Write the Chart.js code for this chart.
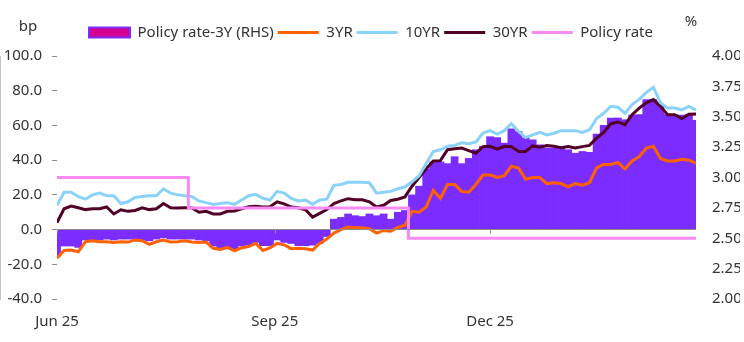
<!DOCTYPE html>
<html>
<head>
<meta charset="utf-8">
<script src="https://cdn.jsdelivr.net/npm/chart.js@4.4.1/dist/chart.umd.min.js"></script>
<style>
  html, body { margin: 0; padding: 0; background: #fff; }
  #wrap { width: 744px; height: 342px; }
</style>
</head>
<body>
<div id="wrap"><canvas id="ratesChart" width="744" height="342"></canvas></div>
<script>
// one observation every 3 calendar days, starting 1 Jun 2025
const dayStep = 3;
const tickDays = [0, 92, 183];
const tickLabels = ["Jun 25", "Sep 25", "Dec 25"];

// Policy rate - 3Y spread (bp, bars)
const spread = [
  -15, -9.5, -9.5, -10.3, -6, -6, -6, -5.5, -6, -5.5,
  -5.5, -5.5, -6, -6.5, -5.5, -4.8, -5.5, -5.5, -5.5, -5.5,
  -6, -6.5, -9.5, -10.5, -11, -11, -9.5, -9, -7.4, -9.3,
  -9.3, -6, -7.4, -8, -9.3, -9.3, -9, -8, -4, 6,
  7, 9, 8, 7.5, 9, 8, 9, 6, 10, 11,
  20, 25, 35, 39, 39, 38, 42, 38, 41, 46,
  48, 53.5, 53, 49.8, 58, 56.5, 52.7, 51.7, 48.8, 47,
  47, 46.9, 46, 44, 45, 44.5, 55, 60, 64.3, 64.3,
  63.3, 66, 66.2, 74.9, 74.9, 72, 66.2, 66, 66, 66.2,
  63
];

// yields (bp, left axis)
const yr3 = [
  -16.5, -12, -11.8, -12.8, -7, -6.5, -7, -7, -7.5, -7,
  -7.2, -6, -6.4, -8.5, -7, -6, -7.2, -7, -6.5, -7.2,
  -7.4, -7.2, -10.8, -11.5, -10.3, -12.2, -10.5, -9.8, -8, -12,
  -10.5, -8, -8.8, -11, -10.8, -11, -11.8, -8, -5.5, -2,
  0, 1.5, 1, 1, 0.5, -2, -0.5, -1, 1.2, 2.5,
  10.5, 10, 13, 22.5, 18, 26, 26, 22, 21.5, 26,
  31.5, 31.5, 30, 31, 36.5, 35.5, 29, 30, 30, 26.5,
  27, 26.5, 24.6, 26.5, 25.6, 27, 35.6, 37.5, 37.5, 38.7,
  35, 39.5, 42, 46.9, 48, 41, 39.5, 39.5, 40.5, 40,
  38.2
];
const yr10 = [
  14, 21.5, 21.5, 19, 17.5, 20, 21, 19.5, 19.5, 15,
  16, 18.5, 19, 19.5, 19.5, 23.5, 21, 20, 19.5, 19,
  16.5, 15.5, 14.5, 15, 15.5, 14.5, 17, 19.5, 20.3, 18,
  17, 22, 21, 18, 16.5, 17, 14.5, 17, 17.5, 25.5,
  26, 27.2, 27.2, 27.2, 27, 21, 21.5, 22, 23.5, 24.5,
  27.5, 31, 38, 45, 46, 48, 48.5, 50, 49.5, 50.5,
  55.6, 57, 55, 57, 61, 56.5, 53, 54.6, 56, 54.5,
  55.5, 57, 57, 57, 56, 57.5, 64, 67, 71, 70.5,
  67, 72, 75, 79, 82, 73, 70, 70, 69, 71,
  69
];
const yr30 = [
  4, 12, 13.5, 12.6, 11.5, 12, 12, 13, 9, 11.4,
  10.5, 11, 12.5, 11.5, 12, 15, 12.6, 12.5, 12.6, 12.5,
  10, 10.5, 9, 9, 10.5, 10.7, 12, 13.2, 13.4, 13,
  13.2, 16, 14.8, 13, 12.6, 11.4, 7.2, 9.3, 11.5, 15,
  16.5, 17.8, 17.2, 17.2, 16, 13, 14, 16.8, 17.5, 18.8,
  25, 30, 35, 39.5, 39.7, 46, 46.5, 47, 45.5, 44,
  47.8, 48, 46.3, 48, 47.8, 45, 45, 48.2, 47.5, 48.4,
  48, 47.2, 47.8, 47, 47.8, 48.5, 52.7, 56, 61, 62,
  60.4, 66.2, 70, 73, 74.9, 71, 66.2, 66.2, 64, 66.5,
  66.6
];

// policy rate (%, right axis)
const policyRate = [
  3.00, 3.00, 3.00, 3.00, 3.00, 3.00, 3.00, 3.00, 3.00, 3.00,
  3.00, 3.00, 3.00, 3.00, 3.00, 3.00, 3.00, 3.00, 3.00, 2.75,
  2.75, 2.75, 2.75, 2.75, 2.75, 2.75, 2.75, 2.75, 2.75, 2.75,
  2.75, 2.75, 2.75, 2.75, 2.75, 2.75, 2.75, 2.75, 2.75, 2.75,
  2.75, 2.75, 2.75, 2.75, 2.75, 2.75, 2.75, 2.75, 2.75, 2.75,
  2.50, 2.50, 2.50, 2.50, 2.50, 2.50, 2.50, 2.50, 2.50, 2.50,
  2.50, 2.50, 2.50, 2.50, 2.50, 2.50, 2.50, 2.50, 2.50, 2.50,
  2.50, 2.50, 2.50, 2.50, 2.50, 2.50, 2.50, 2.50, 2.50, 2.50,
  2.50, 2.50, 2.50, 2.50, 2.50, 2.50, 2.50, 2.50, 2.50, 2.50,
  2.50
];

const FONT = "'Noto Sans', sans-serif";
const TEXT = "#333";
const AXIS = "#8c8c8c";

const toXY = arr => arr.map((v, i) => ({ x: i * dayStep, y: v }));

// a bit more room between the legend and the plot
const legendGap = {
  id: "legendGap",
  beforeInit(chart) {
    const fit = chart.legend.fit;
    chart.legend.fit = function () {
      fit.call(this);
      this.height += 6;
    };
  }
};

// "bp" / "%" unit labels and the small date ticks on the zero line
const extras = {
  id: "extras",
  afterDraw(chart) {
    const { ctx, chartArea, scales } = chart;
    ctx.save();
    ctx.fillStyle = TEXT;
    ctx.font = "15px " + FONT;
    ctx.textAlign = "center";
    ctx.textBaseline = "middle";
    ctx.fillText("bp", chartArea.left - 29, chartArea.top - 29);
    ctx.fillText("%", chartArea.right - 5, chartArea.top - 34);

    const y0 = scales.y.getPixelForValue(0);
    ctx.strokeStyle = AXIS;
    ctx.lineWidth = 1;
    tickDays.forEach(d => {
      const px = Math.round(scales.x.getPixelForValue(d)) + 0.5;
      ctx.beginPath();
      ctx.moveTo(px, y0);
      ctx.lineTo(px, y0 + 4);
      ctx.stroke();
    });
    ctx.restore();
  }
};

new Chart(document.getElementById("ratesChart"), {
  data: {
    datasets: [
      {
        type: "bar",
        label: "Policy rate-3Y (RHS)",
        data: toXY(spread),
        yAxisID: "y",
        backgroundColor: "#7b2cff",
        borderWidth: 0,
        barPercentage: 1,
        categoryPercentage: 1,
        pointStyle: "rect",
        order: 2
      },
      {
        type: "line",
        label: "3YR",
        data: toXY(yr3),
        yAxisID: "y",
        borderColor: "#ff6200",
        backgroundColor: "#ff6200",
        borderWidth: 3,
        pointRadius: 0,
        pointStyle: "line",
        order: 1
      },
      {
        type: "line",
        label: "10YR",
        data: toXY(yr10),
        yAxisID: "y",
        borderColor: "#89d3fa",
        backgroundColor: "#89d3fa",
        borderWidth: 3,
        pointRadius: 0,
        pointStyle: "line",
        order: 1
      },
      {
        type: "line",
        label: "30YR",
        data: toXY(yr30),
        yAxisID: "y",
        borderColor: "#520025",
        backgroundColor: "#520025",
        borderWidth: 3,
        pointRadius: 0,
        pointStyle: "line",
        order: 1
      },
      {
        type: "line",
        label: "Policy rate",
        data: toXY(policyRate),
        yAxisID: "y1",
        borderColor: "#f78bf3",
        backgroundColor: "#f78bf3",
        borderWidth: 3,
        pointRadius: 0,
        pointStyle: "line",
        stepped: "middle",
        order: 0
      }
    ]
  },
  options: {
    responsive: false,
    devicePixelRatio: 1,
    animation: false,
    layout: { padding: { top: 21, left: 2, right: 4, bottom: 5 } },
    plugins: {
      tooltip: { enabled: false },
      legend: {
        position: "top",
        labels: {
          color: TEXT,
          font: { family: FONT, size: 15 },
          usePointStyle: true,
          pointStyleWidth: 41,
          boxHeight: 10,
          padding: 4,
          sort: (a, b) => a.datasetIndex - b.datasetIndex,
          generateLabels(chart) {
            const items = Chart.defaults.plugins.legend.labels.generateLabels(chart);
            items.forEach(it => {
              if (it.datasetIndex === 0) {
                it.fillStyle = "#d4008f";
                it.strokeStyle = "#7b2cff";
                it.lineWidth = 2;
              }
            });
            return items;
          }
        }
      }
    },
    scales: {
      x: {
        type: "linear",
        min: 0,
        max: 270,
        offset: false,
        grid: { display: false, offset: false },
        border: { display: false },
        afterBuildTicks: scale => {
          scale.ticks = tickDays.map(v => ({ value: v }));
        },
        ticks: {
          color: TEXT,
          font: { family: FONT, size: 15 },
          padding: 6,
          maxRotation: 0,
          callback: (v) => tickLabels[tickDays.indexOf(v)]
        }
      },
      y: {
        position: "left",
        min: -40,
        max: 100,
        afterFit: scale => { scale.width = 55; },
        grid: {
          z: 1,
          color: c => (c.tick && c.tick.value === 0 ? AXIS : "transparent"),
          tickColor: AXIS,
          tickLength: 5
        },
        border: { display: true, color: AXIS, width: 1 },
        ticks: {
          stepSize: 20,
          color: TEXT,
          font: { family: FONT, size: 15 },
          padding: 10,
          callback: v => v.toFixed(1)
        }
      },
      y1: {
        position: "right",
        min: 2,
        max: 4,
        afterFit: scale => { scale.width = 44; },
        grid: { display: false, drawTicks: false },
        border: { display: false },
        ticks: {
          stepSize: 0.25,
          color: TEXT,
          font: { family: FONT, size: 15 },
          padding: 16,
          callback: v => v.toFixed(2)
        }
      }
    }
  },
  plugins: [legendGap, extras]
});
</script>
</body>
</html>
